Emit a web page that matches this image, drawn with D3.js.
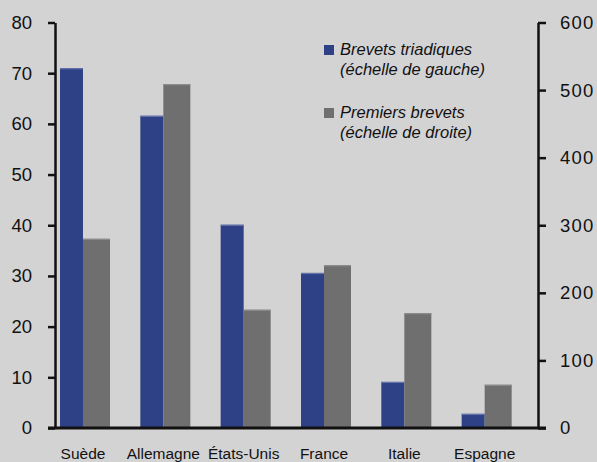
<!DOCTYPE html>
<html><head><meta charset="utf-8">
<script src="https://cdn.jsdelivr.net/npm/d3@7"></script>
<style>
body{margin:0;background:#d4d3d4;}
text{font-family:"Liberation Sans",Arial,sans-serif;fill:#111;}
</style></head>
<body><svg id="c" width="597" height="462"></svg>
<script>
const categories = ["Suède","Allemagne","États-Unis","France","Italie","Espagne"];
const triadiques = [71.0, 61.6, 40.1, 30.6, 9.1, 2.8];     // left scale
const premiers = [280, 509, 175, 241, 170, 64];             // right scale
const leftTicks = [0,10,20,30,40,50,60,70,80];
const rightTicks = [0,100,200,300,400,500,600];
const legendLabels = [["Brevets triadiques","(échelle de gauche)"],["Premiers brevets","(échelle de droite)"]];
const colors = ["#2e4187","#6f6f6f"];

const svg = d3.select("#c");
svg.append("rect").attr("width",597).attr("height",462).attr("fill","#d4d3d4");

const x = d3.scaleBand().domain(categories).range([55,537]).padding(0);
const yL = d3.scaleLinear().domain([0,80]).range([428,22.5]);
const yR = d3.scaleLinear().domain([0,600]).range([428,22.5]);

// bars
const g = svg.append("g");
g.selectAll("rect.b").data(categories).join("rect")
  .attr("x",d=>x(d)+5).attr("width",23)
  .attr("y",(d,i)=>yL(triadiques[i])).attr("height",(d,i)=>yL(0)-yL(triadiques[i]))
  .attr("fill",colors[0]);
g.selectAll("rect.bt").data(categories).join("rect")
  .attr("x",d=>x(d)+5).attr("width",23)
  .attr("y",(d,i)=>yL(triadiques[i])).attr("height",1.2)
  .attr("fill","#6673a8");
g.selectAll("rect.g").data(categories).join("rect")
  .attr("x",d=>x(d)+28).attr("width",27)
  .attr("y",(d,i)=>yR(premiers[i])).attr("height",(d,i)=>yR(0)-yR(premiers[i]))
  .attr("fill",colors[1]);
g.selectAll("rect.gt").data(categories).join("rect")
  .attr("x",d=>x(d)+28).attr("width",27)
  .attr("y",(d,i)=>yR(premiers[i])).attr("height",1.2)
  .attr("fill","#8c8c8c");

// left axis
const la = svg.append("g").attr("transform","translate(55,0)")
  .call(d3.axisLeft(yL).tickValues(leftTicks).tickSize(7).tickSizeOuter(0).tickPadding(16));
la.select(".domain").attr("stroke","#111").attr("stroke-width",2.5);
la.selectAll(".tick line").attr("stroke","#111").attr("stroke-width",2.5);
la.selectAll(".tick text").attr("font-size",18.5).attr("font-family","Liberation Sans, Arial, sans-serif").attr("fill","#111");

// right axis
const ra = svg.append("g").attr("transform","translate(538,0)")
  .call(d3.axisRight(yR).tickValues(rightTicks).tickSize(8).tickSizeOuter(0).tickPadding(14));
ra.select(".domain").attr("stroke","#111").attr("stroke-width",2.5);
ra.selectAll(".tick line").attr("stroke","#111").attr("stroke-width",2.5);
ra.selectAll(".tick text").attr("font-size",18.5).attr("letter-spacing","1.2px").attr("font-family","Liberation Sans, Arial, sans-serif").attr("fill","#111");

// bottom axis line
svg.append("line").attr("x1",48).attr("x2",546).attr("y1",428).attr("y2",428)
  .attr("stroke","#111").attr("stroke-width",3);

// category labels
svg.selectAll("text.cat").data(categories).join("text")
  .attr("x",d=>x(d)+28).attr("y",458.5).attr("text-anchor","middle")
  .attr("font-size",15.5).text(d=>d);

// legend
const lg = svg.append("g");
legendLabels.forEach((lines,i)=>{
  const y0 = 45 + i*63;
  lg.append("rect").attr("x",324).attr("y",y0).attr("width",10).attr("height",10).attr("fill",colors[i]);
  lines.forEach((t,j)=>{
    lg.append("text").attr("x",340).attr("y",y0+10+j*19.5).attr("font-size",16.5)
      .attr("font-style","italic").text(t);
  });
});
</script></body></html>
